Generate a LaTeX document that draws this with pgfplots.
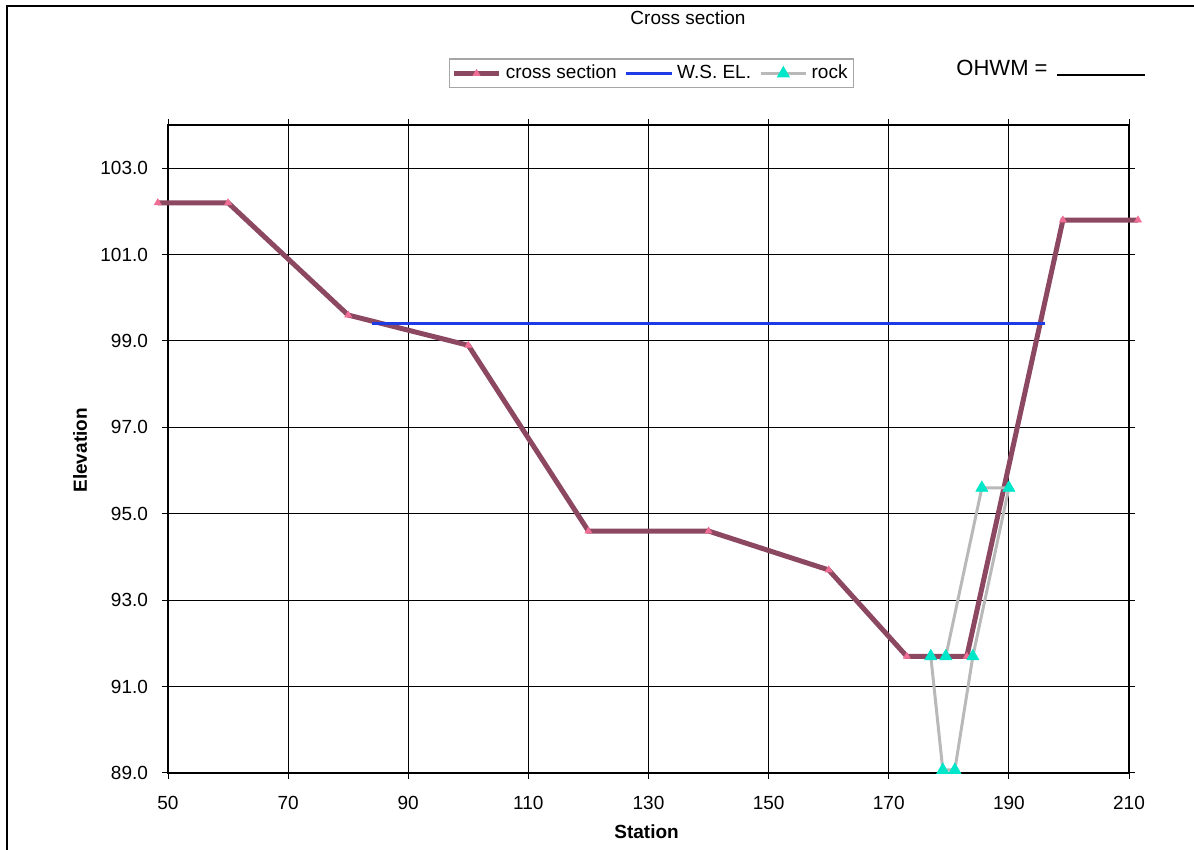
\documentclass[border=0pt]{standalone}
\usepackage{pgfplots}
\pgfplotsset{compat=1.18}
\usepackage{fontspec}
\setmainfont{Liberation Sans}
\definecolor{xsec}{RGB}{140,72,96}
\definecolor{xmark}{RGB}{240,110,150}
\definecolor{wsel}{RGB}{30,60,230}
\definecolor{rockc}{RGB}{185,185,185}
\definecolor{rockm}{RGB}{0,230,200}
\begin{document}
\begin{tikzpicture}[x=1pt,y=1pt]
\useasboundingbox (0,0) rectangle (597,425);
\draw[line width=1pt] (3.5,0) -- (3.5,422) -- (597,422);
\node[font=\fontsize{9.5}{11}\selectfont] at (344,416) {Cross section};
\node[font=\fontsize{11}{13}\selectfont] at (501,391) {OHWM =};
\draw[line width=1pt] (528.5,387.5) -- (572.5,387.5);
\begin{axis}[at={(84pt,38.5pt)}, anchor=south west, scale only axis,
  width=480.5pt, height=324pt,
  xmin=50, xmax=210, ymin=89, ymax=104,
  xtick={50,70,...,210}, ytick={89,91,...,103},
  grid=major, major grid style={black, line width=0.5pt},
  axis line style={black, line width=0.6pt},
  tick align=outside, major tick length=3pt, tick style={black, line width=0.5pt},
  font=\fontsize{9.5}{11}\selectfont,
  /pgf/number format/assume math mode=true,
  yticklabel style={xshift=-3.5pt, /pgf/number format/.cd, fixed, fixed zerofill, precision=1},
  xticklabel style={yshift=-5pt},
  xlabel={\textbf{Station}}, ylabel={\textbf{Elevation}},
  x label style={at={(axis description cs:0.498,0)}, anchor=center, yshift=-29.5pt},
  y label style={at={(axis description cs:-0.0916,0.498)}, anchor=center},
  clip=false,
  legend columns=3,
  legend style={at={(rel axis cs:0.503,1.0795)}, anchor=center, draw=gray!70,
    line width=0.6pt, font=\fontsize{9.5}{11}\selectfont, inner sep=1pt,
    /tikz/every even column/.append style={column sep=2pt}},
  legend image code/.code={\draw[mark repeat=2,mark phase=2,#1] plot coordinates {(0cm,0cm) (0.4cm,0cm) (0.8cm,0cm)};},
]
\addplot[xsec, line width=2.5pt, mark=triangle*, mark size=2pt,
  mark options={xmark, line width=0.3pt}] coordinates {
  (48.3,102.2) (60,102.2) (80,99.6) (100,98.9) (120,94.6) (140,94.6)
  (160,93.7) (173,91.7) (183,91.7) (199,101.8) (211.5,101.8)};
\addlegendentry{cross section}
\addplot[wsel, line width=1.5pt] coordinates {(84,99.4) (196,99.4)};
\addlegendentry{W.S. EL.}
\addplot[rockc, line width=1.5pt, mark=triangle*, mark size=3.5pt,
  mark options={rockm, line width=0.3pt}] coordinates {
  (177,91.7) (179,89.07) (181,89.07) (184,91.7) (190,95.6) (185.5,95.6) (179.5,91.7)};
\addlegendentry{rock}
\end{axis}
\end{tikzpicture}
\end{document}
